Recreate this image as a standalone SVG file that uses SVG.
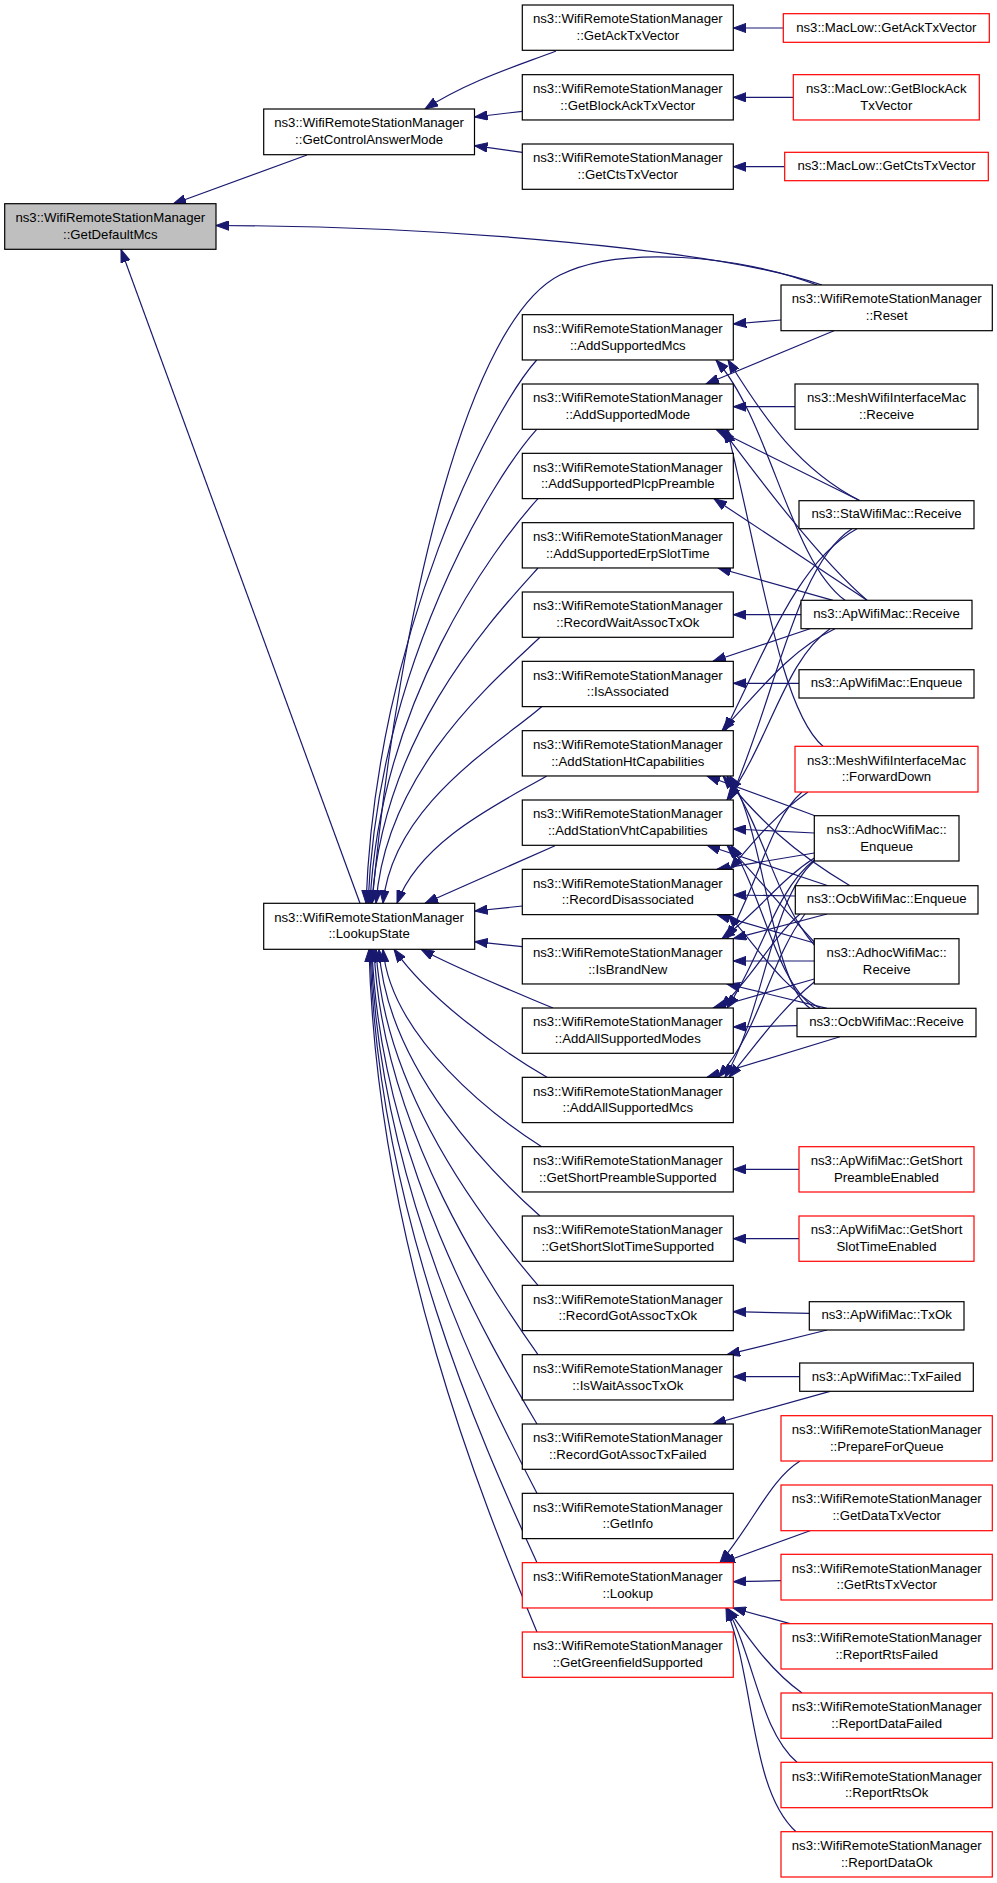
<svg xmlns="http://www.w3.org/2000/svg" width="997" height="1883" viewBox="0 0 997 1883">
<defs>
<style>
.n rect{fill:#fff;stroke:#000;stroke-width:1.2}
.r rect{fill:#fff;stroke:#f00;stroke-width:1.2}
.g rect{fill:#bfbfbf;stroke:#000;stroke-width:1.2}
text{font-family:"Liberation Sans",Arial,sans-serif;font-size:13.2px;fill:#000;text-anchor:middle}
#edges path{fill:none;stroke:#191970;stroke-width:1.2;marker-end:url(#a)}
</style>
<marker id="a" markerUnits="userSpaceOnUse" markerWidth="14" markerHeight="10" viewBox="0 0 14 10" refX="13" refY="5" orient="auto">
<path d="M0,0.3 L13,5 L0,9.7 z" fill="#191970" stroke="#191970" stroke-width="1"/>
</marker>
</defs>
<rect width="997" height="1883" fill="#fff"/>
<g id="edges">
<path d="M307,155 L173,204"/>
<path d="M822,285 C720,250 450,226 216,225.5"/>
<path d="M360,903.3 L121,249.5"/>
<path d="M556,51 C520,65 470,80 425,109"/>
<path d="M522.3,111.3 L474.5,117"/>
<path d="M522.3,152.3 L474.5,145.7"/>
<path d="M783.3,28 L733.3,28"/>
<path d="M793.3,97.3 L733.3,97.3"/>
<path d="M784.7,166.7 L733.3,166.7"/>
<path d="M817,285 C740,255 620,245 560,275 C470,320 400,600 372,903.3"/>
<path d="M781,320 L733.3,324"/>
<path d="M834,330.7 L706,384"/>
<path d="M795,406.7 L733.3,406.7"/>
<path d="M860,500.7 C800,470 765,420 728,360"/>
<path d="M860,500.7 L716,429.3"/>
<path d="M857,528.7 C800,560 770,640 725,730.7"/>
<path d="M852,528.7 C795,565 775,700 730,800"/>
<path d="M845,600.3 C790,560 770,420 716,360"/>
<path d="M867,600.3 C820,560 760,480 722,429.3"/>
<path d="M867,600.3 L714,498.7"/>
<path d="M833,600.3 L718,568"/>
<path d="M801,614.7 L733.3,614.7"/>
<path d="M810,628.7 L713,661.3"/>
<path d="M835,628.7 C790,650 760,690 722,730.7"/>
<path d="M830,628.7 C785,660 770,740 727,800"/>
<path d="M799,683.3 L733.3,683.3"/>
<path d="M823,746.3 C780,710 760,560 727,429.3"/>
<path d="M802,792 C770,820 760,880 727,938.7"/>
<path d="M808,792 C775,815 755,840 730,869.3"/>
<path d="M815,815.7 L707,776"/>
<path d="M814.3,833 L733.3,829"/>
<path d="M814.3,853 L717,869.3"/>
<path d="M814.3,858 C780,880 760,910 722,938.7"/>
<path d="M814.3,860 C775,890 760,960 727,1008"/>
<path d="M814.3,861 C770,900 765,1010 725,1077.3"/>
<path d="M850,885.7 C790,850 760,820 723,776"/>
<path d="M828,885.7 L707,845.3"/>
<path d="M795.3,896 L733.3,895"/>
<path d="M827,914 L733.3,938.7"/>
<path d="M800,914 C770,940 755,975 720,1008"/>
<path d="M805,914 C770,960 760,1030 718,1077.3"/>
<path d="M814.3,945 C775,900 765,830 727,776"/>
<path d="M814.3,942 C780,905 760,880 727,845.3"/>
<path d="M814.3,943 L717,914.7"/>
<path d="M814.3,961 L733.3,961"/>
<path d="M814.3,979 L713,1008"/>
<path d="M814.3,982 C780,1010 760,1040 729,1077.3"/>
<path d="M810,1008.3 C770,980 765,830 730,776"/>
<path d="M815,1008.3 C775,980 765,900 731,845.3"/>
<path d="M820,1008.3 C780,985 760,950 728,914.7"/>
<path d="M827,1008.3 L727,984"/>
<path d="M797,1025.7 L733.3,1027"/>
<path d="M840,1036.7 L707,1077.3"/>
<path d="M799,1169.3 L733.3,1169.3"/>
<path d="M799,1238.7 L733.3,1238.7"/>
<path d="M809.3,1313.3 L733.3,1311.7"/>
<path d="M827,1330 L727,1354.7"/>
<path d="M799.7,1376.7 L733.3,1376.7"/>
<path d="M830,1391.3 L713,1424"/>
<path d="M800,1461 C770,1480 755,1520 720,1562.7"/>
<path d="M810,1530.7 L722,1562.7"/>
<path d="M781,1580.7 L733.3,1581.7"/>
<path d="M790,1623.7 L733,1608"/>
<path d="M802,1693 C770,1670 750,1640 727,1608"/>
<path d="M797,1762.3 C760,1730 755,1660 727,1608"/>
<path d="M796,1831.7 C750,1790 755,1680 726,1608"/>
<path d="M536.7,360 C492,410 376,632 366,903.3"/>
<path d="M536.7,429.3 C492,479 378,666 368,903.3"/>
<path d="M538,498.7 C493,548 380,701 370,903.3"/>
<path d="M538,568 C493,618 382,735 372,903.3"/>
<path d="M540,637.3 C495,680 386,770 376,903.3"/>
<path d="M541.7,706.7 C497,745 393,805 383,903.3"/>
<path d="M546.7,776 C502,802 420,840 397,903.3"/>
<path d="M555,845.7 L425,903.3"/>
<path d="M522.3,906 L474.7,911"/>
<path d="M522.3,946.7 L474.7,941.7"/>
<path d="M553,1008 C510,990 460,970 421,949.3"/>
<path d="M547,1077.3 C500,1050 430,1000 394,949.3"/>
<path d="M541.7,1146.7 C495,1117 391,1038 383,949.3"/>
<path d="M540,1216 C495,1176 387,1070 379,949.3"/>
<path d="M538,1285.3 C495,1235 384,1100 376,949.3"/>
<path d="M538,1354.7 C495,1294 382,1131 374,949.3"/>
<path d="M537,1424 C495,1353 380,1163 372,949.3"/>
<path d="M537,1493.3 C495,1412 379,1194 371,949.3"/>
<path d="M537,1562.7 C495,1470 378,1225 370,949.3"/>
<path d="M537,1632 C495,1530 377,1256 369,949.3"/>
</g>
<g id="n_getdefaultmcs" class="g"><rect x="4.7" y="203.7" width="211.3" height="45.6"/><text x="110.3" y="222">ns3::WifiRemoteStationManager</text><text x="110.3" y="238.7">::GetDefaultMcs</text></g>
<g id="n_getcontrolanswermode" class="n"><rect x="263.7" y="109" width="210.8" height="45.7"/><text x="369.1" y="127.3">ns3::WifiRemoteStationManager</text><text x="369.1" y="144">::GetControlAnswerMode</text></g>
<g id="n_lookupstate" class="n"><rect x="263.7" y="903.3" width="211" height="46"/><text x="369.1" y="921.6">ns3::WifiRemoteStationManager</text><text x="369.1" y="938.3">::LookupState</text></g>
<g id="n_getacktxvector" class="n"><rect x="522.3" y="5" width="211" height="45.3"/><text x="627.8" y="23.3">ns3::WifiRemoteStationManager</text><text x="627.8" y="40">::GetAckTxVector</text></g>
<g id="n_getblockacktxvector" class="n"><rect x="522.3" y="74.67" width="211" height="45.3"/><text x="627.8" y="92.97">ns3::WifiRemoteStationManager</text><text x="627.8" y="109.67">::GetBlockAckTxVector</text></g>
<g id="n_getctstxvector" class="n"><rect x="522.3" y="144" width="211" height="45.3"/><text x="627.8" y="162.3">ns3::WifiRemoteStationManager</text><text x="627.8" y="179">::GetCtsTxVector</text></g>
<g id="n_addsupportedmcs" class="n"><rect x="522.3" y="314.67" width="211" height="45.3"/><text x="627.8" y="332.97">ns3::WifiRemoteStationManager</text><text x="627.8" y="349.67">::AddSupportedMcs</text></g>
<g id="n_addsupportedmode" class="n"><rect x="522.3" y="384" width="211" height="45.3"/><text x="627.8" y="402.3">ns3::WifiRemoteStationManager</text><text x="627.8" y="419">::AddSupportedMode</text></g>
<g id="n_addsupportedplcppreamble" class="n"><rect x="522.3" y="453.33" width="211" height="45.3"/><text x="627.8" y="471.63">ns3::WifiRemoteStationManager</text><text x="627.8" y="488.33">::AddSupportedPlcpPreamble</text></g>
<g id="n_addsupportederpslottime" class="n"><rect x="522.3" y="522.67" width="211" height="45.3"/><text x="627.8" y="540.97">ns3::WifiRemoteStationManager</text><text x="627.8" y="557.67">::AddSupportedErpSlotTime</text></g>
<g id="n_recordwaitassoctxok" class="n"><rect x="522.3" y="592" width="211" height="45.3"/><text x="627.8" y="610.3">ns3::WifiRemoteStationManager</text><text x="627.8" y="627">::RecordWaitAssocTxOk</text></g>
<g id="n_isassociated" class="n"><rect x="522.3" y="661.33" width="211" height="45.3"/><text x="627.8" y="679.63">ns3::WifiRemoteStationManager</text><text x="627.8" y="696.33">::IsAssociated</text></g>
<g id="n_addstationhtcapabilities" class="n"><rect x="522.3" y="730.67" width="211" height="45.3"/><text x="627.8" y="748.97">ns3::WifiRemoteStationManager</text><text x="627.8" y="765.67">::AddStationHtCapabilities</text></g>
<g id="n_addstationvhtcapabilities" class="n"><rect x="522.3" y="800" width="211" height="45.3"/><text x="627.8" y="818.3">ns3::WifiRemoteStationManager</text><text x="627.8" y="835">::AddStationVhtCapabilities</text></g>
<g id="n_recorddisassociated" class="n"><rect x="522.3" y="869.33" width="211" height="45.3"/><text x="627.8" y="887.63">ns3::WifiRemoteStationManager</text><text x="627.8" y="904.33">::RecordDisassociated</text></g>
<g id="n_isbrandnew" class="n"><rect x="522.3" y="938.67" width="211" height="45.3"/><text x="627.8" y="956.97">ns3::WifiRemoteStationManager</text><text x="627.8" y="973.67">::IsBrandNew</text></g>
<g id="n_addallsupportedmodes" class="n"><rect x="522.3" y="1008" width="211" height="45.3"/><text x="627.8" y="1026.3">ns3::WifiRemoteStationManager</text><text x="627.8" y="1043">::AddAllSupportedModes</text></g>
<g id="n_addallsupportedmcs" class="n"><rect x="522.3" y="1077.33" width="211" height="45.3"/><text x="627.8" y="1095.63">ns3::WifiRemoteStationManager</text><text x="627.8" y="1112.33">::AddAllSupportedMcs</text></g>
<g id="n_getshortpreamblesupported" class="n"><rect x="522.3" y="1146.67" width="211" height="45.3"/><text x="627.8" y="1164.97">ns3::WifiRemoteStationManager</text><text x="627.8" y="1181.67">::GetShortPreambleSupported</text></g>
<g id="n_getshortslottimesupported" class="n"><rect x="522.3" y="1216" width="211" height="45.3"/><text x="627.8" y="1234.3">ns3::WifiRemoteStationManager</text><text x="627.8" y="1251">::GetShortSlotTimeSupported</text></g>
<g id="n_recordgotassoctxok" class="n"><rect x="522.3" y="1285.33" width="211" height="45.3"/><text x="627.8" y="1303.63">ns3::WifiRemoteStationManager</text><text x="627.8" y="1320.33">::RecordGotAssocTxOk</text></g>
<g id="n_iswaitassoctxok" class="n"><rect x="522.3" y="1354.67" width="211" height="45.3"/><text x="627.8" y="1372.97">ns3::WifiRemoteStationManager</text><text x="627.8" y="1389.67">::IsWaitAssocTxOk</text></g>
<g id="n_recordgotassoctxfailed" class="n"><rect x="522.3" y="1424" width="211" height="45.3"/><text x="627.8" y="1442.3">ns3::WifiRemoteStationManager</text><text x="627.8" y="1459">::RecordGotAssocTxFailed</text></g>
<g id="n_getinfo" class="n"><rect x="522.3" y="1493.33" width="211" height="45.3"/><text x="627.8" y="1511.63">ns3::WifiRemoteStationManager</text><text x="627.8" y="1528.33">::GetInfo</text></g>
<g id="n_lookup" class="r"><rect x="522.3" y="1562.67" width="211" height="45.3"/><text x="627.8" y="1580.97">ns3::WifiRemoteStationManager</text><text x="627.8" y="1597.67">::Lookup</text></g>
<g id="n_getgreenfieldsupported" class="r"><rect x="522.3" y="1632" width="211" height="45.3"/><text x="627.8" y="1650.3">ns3::WifiRemoteStationManager</text><text x="627.8" y="1667">::GetGreenfieldSupported</text></g>
<g id="n_maclow_getacktxvector" class="r"><rect x="783.3" y="13.7" width="206" height="28.6"/><text x="886.3" y="31.5">ns3::MacLow::GetAckTxVector</text></g>
<g id="n_maclow_getblockacktxvector" class="r"><rect x="793.3" y="74.67" width="186" height="45.3"/><text x="886.3" y="92.97">ns3::MacLow::GetBlockAck</text><text x="886.3" y="109.67">TxVector</text></g>
<g id="n_maclow_getctstxvector" class="r"><rect x="784.7" y="152.3" width="203.6" height="28.4"/><text x="886.5" y="170.1">ns3::MacLow::GetCtsTxVector</text></g>
<g id="n_reset" class="n"><rect x="781" y="285" width="211.3" height="45.7"/><text x="886.7" y="303.3">ns3::WifiRemoteStationManager</text><text x="886.7" y="320">::Reset</text></g>
<g id="n_mesh_receive" class="n"><rect x="795" y="384" width="183" height="45.3"/><text x="886.5" y="402.3">ns3::MeshWifiInterfaceMac</text><text x="886.5" y="419">::Receive</text></g>
<g id="n_sta_receive" class="n"><rect x="799" y="500.7" width="175" height="28"/><text x="886.5" y="518.4">ns3::StaWifiMac::Receive</text></g>
<g id="n_ap_receive" class="n"><rect x="801" y="600.3" width="171" height="28.4"/><text x="886.5" y="618.1">ns3::ApWifiMac::Receive</text></g>
<g id="n_ap_enqueue" class="n"><rect x="799" y="669.7" width="175" height="28.3"/><text x="886.5" y="687.4">ns3::ApWifiMac::Enqueue</text></g>
<g id="n_mesh_forwarddown" class="r"><rect x="795" y="746.3" width="183" height="45.7"/><text x="886.5" y="764.6">ns3::MeshWifiInterfaceMac</text><text x="886.5" y="781.3">::ForwardDown</text></g>
<g id="n_adhoc_enqueue" class="n"><rect x="814.3" y="815.7" width="144.7" height="45.3"/><text x="886.7" y="834">ns3::AdhocWifiMac::</text><text x="886.7" y="850.7">Enqueue</text></g>
<g id="n_ocb_enqueue" class="n"><rect x="795.3" y="885.7" width="182.7" height="28.3"/><text x="886.7" y="903.4">ns3::OcbWifiMac::Enqueue</text></g>
<g id="n_adhoc_receive" class="n"><rect x="814.3" y="938.7" width="144.7" height="45.3"/><text x="886.7" y="957">ns3::AdhocWifiMac::</text><text x="886.7" y="973.7">Receive</text></g>
<g id="n_ocb_receive" class="n"><rect x="797" y="1008.3" width="179" height="28.4"/><text x="886.5" y="1026.1">ns3::OcbWifiMac::Receive</text></g>
<g id="n_ap_getshortpreambleenabled" class="r"><rect x="799" y="1146.7" width="175" height="45.3"/><text x="886.5" y="1165">ns3::ApWifiMac::GetShort</text><text x="886.5" y="1181.7">PreambleEnabled</text></g>
<g id="n_ap_getshortslottimeenabled" class="r"><rect x="799" y="1216" width="175" height="45.3"/><text x="886.5" y="1234.3">ns3::ApWifiMac::GetShort</text><text x="886.5" y="1251">SlotTimeEnabled</text></g>
<g id="n_ap_txok" class="n"><rect x="809.3" y="1301.7" width="154.7" height="28.3"/><text x="886.6" y="1319.4">ns3::ApWifiMac::TxOk</text></g>
<g id="n_ap_txfailed" class="n"><rect x="799.7" y="1363" width="173.6" height="28.3"/><text x="886.5" y="1380.7">ns3::ApWifiMac::TxFailed</text></g>
<g id="n_prepareforqueue" class="r"><rect x="781" y="1415.7" width="211.3" height="45.3"/><text x="886.7" y="1434">ns3::WifiRemoteStationManager</text><text x="886.7" y="1450.7">::PrepareForQueue</text></g>
<g id="n_getdatatxvector" class="r"><rect x="781" y="1485" width="211.3" height="45.7"/><text x="886.7" y="1503.3">ns3::WifiRemoteStationManager</text><text x="886.7" y="1520">::GetDataTxVector</text></g>
<g id="n_getrtstxvector" class="r"><rect x="781" y="1554.3" width="211.3" height="45.7"/><text x="886.7" y="1572.6">ns3::WifiRemoteStationManager</text><text x="886.7" y="1589.3">::GetRtsTxVector</text></g>
<g id="n_reportrtsfailed" class="r"><rect x="781" y="1623.7" width="211.3" height="45.3"/><text x="886.7" y="1642">ns3::WifiRemoteStationManager</text><text x="886.7" y="1658.7">::ReportRtsFailed</text></g>
<g id="n_reportdatafailed" class="r"><rect x="781" y="1693" width="211.3" height="45.3"/><text x="886.7" y="1711.3">ns3::WifiRemoteStationManager</text><text x="886.7" y="1728">::ReportDataFailed</text></g>
<g id="n_reportrtsok" class="r"><rect x="781" y="1762.3" width="211.3" height="45.4"/><text x="886.7" y="1780.6">ns3::WifiRemoteStationManager</text><text x="886.7" y="1797.3">::ReportRtsOk</text></g>
<g id="n_reportdataok" class="r"><rect x="781" y="1831.7" width="211.3" height="45.3"/><text x="886.7" y="1850">ns3::WifiRemoteStationManager</text><text x="886.7" y="1866.7">::ReportDataOk</text></g>
</svg>
